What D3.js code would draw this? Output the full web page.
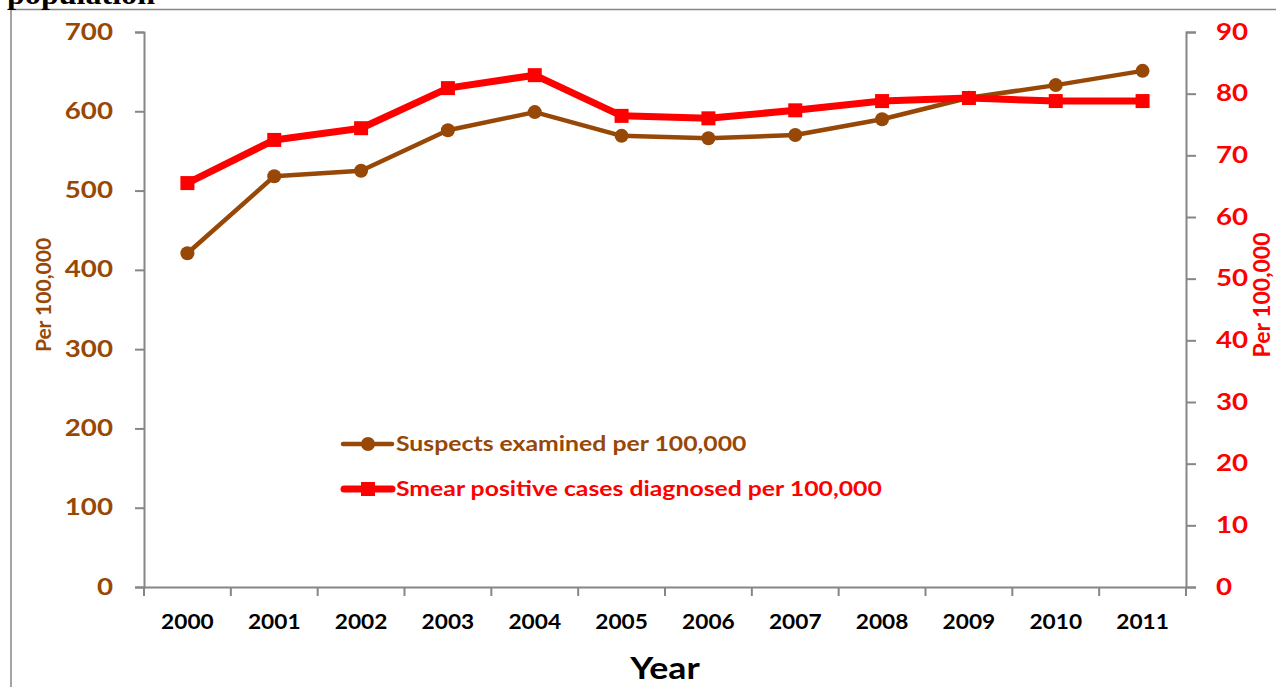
<!DOCTYPE html>
<html>
<head>
<meta charset="utf-8">
<script src="https://cdn.jsdelivr.net/npm/d3@7/dist/d3.min.js"></script>
<style>
  html, body { margin: 0; padding: 0; background: #fff; }
  svg { display: block; }
</style>
</head>
<body>
<svg id="chart" width="1276" height="687"></svg>
<script>
// Tuberculosis case-finding indicators, per 100,000 population
const years = ["2000","2001","2002","2003","2004","2005","2006","2007","2008","2009","2010","2011"];
const suspectsExamined = [421, 518, 525, 576, 599, 569, 566, 570, 590, 617, 633, 651];
const smearPositive = [65.5, 72.5, 74.4, 80.9, 83.0, 76.4, 76.0, 77.3, 78.8, 79.3, 78.8, 78.8];
const leftTicks = [0, 100, 200, 300, 400, 500, 600, 700];
const rightTicks = [0, 10, 20, 30, 40, 50, 60, 70, 80, 90];
const seriesNames = ["Suspects examined per 100,000", "Smear positive cases diagnosed per 100,000"];

const BROWN = "#974806";
const RED = "#ff0000";
const GREY = "#868686";
const FONT = "Lato, 'Open Sans', sans-serif";

const svg = d3.select("#chart");

// Widen a text element horizontally about its own anchor point
function widen(sel, s) {
  sel.each(function () {
    const t = d3.select(this);
    const x0 = +t.attr("x") || 0;
    const y0 = +t.attr("y") || 0;
    t.attr("x", 0).attr("y", 0)
      .attr("transform", `translate(${x0},${y0}) scale(${s},1)`);
  });
}

// Outer frame and clipped heading above it
svg.append("rect").attr("x", 11).attr("y", 9.5).attr("width", 1300).attr("height", 700)
  .attr("fill", "none").attr("stroke", GREY).attr("stroke-width", 1.5);
svg.append("text").attr("x", 7).attr("y", 3.5).text("population")
  .attr("font-family", "'Liberation Serif', 'Times New Roman', serif")
  .attr("font-weight", "bold").attr("font-size", 30).attr("fill", "#000")
  .call(widen, 1.07);

const plot = { left: 144, right: 1186, top: 32, bottom: 587 };

const x = d3.scaleBand().domain(years).range([plot.left, plot.right]).padding(0);
const yL = d3.scaleLinear().domain([0, 700]).range([plot.bottom, plot.top]);
const yR = d3.scaleLinear().domain([0, 90]).range([plot.bottom, plot.top]);

// Left axis
const gL = svg.append("g").attr("transform", `translate(${plot.left},0)`)
  .call(d3.axisLeft(yL).tickValues(leftTicks).tickSize(9).tickPadding(22));
gL.selectAll("text").attr("fill", BROWN).attr("font-size", 22).attr("font-weight", "bold")
  .attr("font-family", FONT).call(widen, 1.26);

// Right axis
const gR = svg.append("g").attr("transform", `translate(${plot.right},0)`)
  .call(d3.axisRight(yR).tickValues(rightTicks).tickSize(10).tickPadding(20));
gR.selectAll("text").attr("fill", RED).attr("font-size", 22).attr("font-weight", "bold")
  .attr("font-family", FONT).call(widen, 1.26);

// Bottom axis: ticks between categories
const gX = svg.append("g").attr("transform", `translate(0,${plot.bottom})`)
  .call(d3.axisBottom(x).tickSize(0).tickPadding(27));
gX.selectAll("text").attr("fill", "#000").attr("font-size", 21).attr("font-weight", "bold")
  .attr("font-family", FONT).call(widen, 1.08);
const bounds = years.map(d => x(d)).concat([x(years[years.length - 1]) + x.bandwidth()]);
gX.selectAll("line.sep").data(bounds).join("line").attr("class", "sep")
  .attr("x1", d => d).attr("x2", d => d).attr("y1", 0).attr("y2", 9);

[gL, gR, gX].forEach(g => {
  g.selectAll("path.domain").attr("stroke", GREY).attr("stroke-width", 2);
  g.selectAll("line").attr("stroke", GREY).attr("stroke-width", 2);
});

// Axis titles
svg.append("text").attr("transform", "translate(51,295) rotate(-90)")
  .attr("text-anchor", "middle").attr("fill", BROWN).attr("font-size", 21)
  .attr("font-weight", "bold").attr("font-family", FONT).text("Per 100,000");
svg.append("text").attr("transform", "translate(1270,295) rotate(-90)")
  .attr("text-anchor", "middle").attr("fill", RED).attr("font-size", 23)
  .attr("font-weight", "bold").attr("font-family", FONT).text("Per 100,000");
svg.append("text").attr("x", 665).attr("y", 679).attr("text-anchor", "middle")
  .attr("fill", "#000").attr("font-size", 30).attr("font-weight", "bold")
  .attr("font-family", FONT).text("Year").call(widen, 1.19);

const cx = d => x(d) + x.bandwidth() / 2;

// Suspects examined (left axis)
svg.append("path").datum(suspectsExamined)
  .attr("d", d3.line().x((d, i) => cx(years[i])).y(d => yL(d)))
  .attr("fill", "none").attr("stroke", BROWN).attr("stroke-width", 4.5).attr("stroke-linejoin", "round");
svg.selectAll("circle.pt").data(suspectsExamined).join("circle").attr("class", "pt")
  .attr("cx", (d, i) => cx(years[i])).attr("cy", d => yL(d)).attr("r", 7).attr("fill", BROWN);

// Smear positive cases (right axis)
svg.append("path").datum(smearPositive)
  .attr("d", d3.line().x((d, i) => cx(years[i])).y(d => yR(d)))
  .attr("fill", "none").attr("stroke", RED).attr("stroke-width", 7).attr("stroke-linejoin", "round");
svg.selectAll("rect.pt").data(smearPositive).join("rect").attr("class", "pt")
  .attr("x", (d, i) => cx(years[i]) - 7).attr("y", d => yR(d) - 7)
  .attr("width", 14).attr("height", 14).attr("fill", RED);

// Legend
const legend = svg.append("g").attr("font-family", FONT).attr("font-weight", "bold").attr("font-size", 21);
const l1 = legend.append("g").attr("transform", "translate(0,444)");
l1.append("line").attr("x1", 343).attr("x2", 392).attr("stroke", BROWN).attr("stroke-width", 4.5).attr("stroke-linecap", "round");
l1.append("circle").attr("cx", 368).attr("r", 7).attr("fill", BROWN);
l1.append("text").attr("x", 396).attr("y", 7).attr("fill", BROWN).text(seriesNames[0]).call(widen, 1.18);
const l2 = legend.append("g").attr("transform", "translate(0,489)");
l2.append("line").attr("x1", 344).attr("x2", 392).attr("stroke", RED).attr("stroke-width", 7).attr("stroke-linecap", "round");
l2.append("rect").attr("x", 361).attr("y", -7).attr("width", 14).attr("height", 14).attr("fill", RED);
l2.append("text").attr("x", 396).attr("y", 7).attr("fill", RED).text(seriesNames[1]).call(widen, 1.18);
</script>
</body>
</html>
